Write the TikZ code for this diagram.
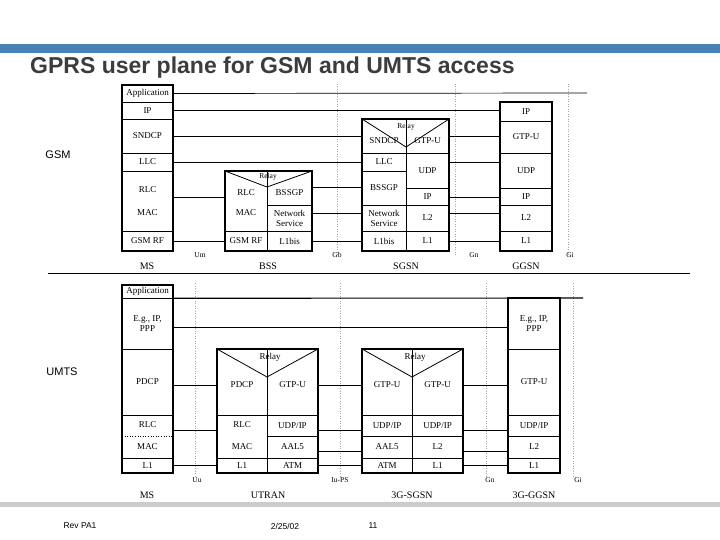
\documentclass[tikz,border=0pt]{standalone}
\usepackage{fontspec}
\setmainfont{Liberation Serif}
\newfontfamily\sansf{Liberation Sans}
\begin{document}
\begin{tikzpicture}[x=1pt,y=-1pt,
  cell/.style={draw,line width=0.6pt,inner sep=0pt,font=\fontsize{9}{10}\selectfont,align=center},
  txt/.style={inner sep=0pt,font=\fontsize{9}{10}\selectfont,align=center},
  lbl/.style={inner sep=0pt,font=\fontsize{7.5}{8}\selectfont},
  nlbl/.style={inner sep=0pt,font=\fontsize{10}{11}\selectfont},
  box/.style={draw,line width=1.1pt},
  ln/.style={line width=0.7pt},
  iface/.style={gray!70,line width=0.5pt,dotted},
  side/.style={inner sep=0pt,font=\sansf\fontsize{11}{13}\selectfont},
  foot/.style={inner sep=0pt,font=\sansf\fontsize{8.5}{10}\selectfont}]
\newcommand\cell[6]{\node[cell,minimum width={#4-#2},minimum height={#5-#3}] (#1) at ({(#2+#4)/2},{(#3+#5)/2}) {#6};}
\useasboundingbox (0,0) rectangle (720,540);
\fill[white] (0,0) rectangle (720,540);
\fill[fill={rgb,255:red,70;green,130;blue,180}] (0,44) rectangle (720,53);
\node[anchor=west,inner sep=0pt,font=\sansf\bfseries\fontsize{23}{26}\selectfont,text={rgb,255:red,60;green,60;blue,60}] (title) at (30,68) {GPRS user plane for GSM and UMTS access};
\fill[gray!40] (0,502) rectangle (720,507);
\draw[line width=0.6pt] (48,273) -- (690,273);
\node[side] (gsm) at (58,155) {GSM};
\node[side] (umts) at (62,372) {UMTS};
\node[foot] (rev) at (80,526) {Rev PA1};
\node[foot] (date) at (285,526) {2/25/02};
\node[foot] (page) at (373,526) {11};

% ---------- GSM ----------
\foreach \x in {337,455,568} \draw[iface] (\x,84) -- (\x,256);
\node[lbl] (um) at (200,255) {Um};
\node[lbl] (gb) at (337,255) {Gb};
\node[lbl] (gn) at (474,255) {Gn};
\node[lbl] (gi) at (570,255) {Gi};
\node[nlbl] (lms) at (147,266) {MS};
\node[nlbl] (lbss) at (268,266) {BSS};
\node[nlbl] (lsgsn) at (406,266) {SGSN};
\node[nlbl] (lggsn) at (526,266) {GGSN};
% MS
\cell{msapp}{122}{85}{173}{102}{Application}
\cell{msip}{122}{102}{173}{119}{IP}
\cell{mssndcp}{122}{119}{173}{153}{SNDCP}
\cell{msllc}{122}{153}{173}{171}{LLC}
\cell{msrm}{122}{171}{173}{231}{}
\node[txt] (msrlc) at (147.5,190) {RLC};
\node[txt] (msmac) at (147.5,213) {MAC};
\cell{msrf}{122}{231}{173}{251}{GSM RF}
\draw[box] (122,85) rectangle (173,251);
% BSS
\cell{bssrm}{225}{171}{267}{231}{}
\node[txt] (bssrlc) at (246,193) {RLC};
\node[txt] (bssmac) at (246,213) {MAC};
\cell{bssgp}{267}{171}{312}{205}{}
\node[txt] (bssgpt) at (289.5,193) {BSSGP};
\cell{bssns}{267}{205}{312}{231}{Network\\Service}
\cell{bssrf}{225}{231}{267}{251}{GSM RF}
\cell{bssl1}{267}{231}{312}{251}{L1bis}
\draw[line width=0.8pt] (225,171) -- (267,187) -- (312,171);
\node[lbl] (bssrelay) at (268,177) {Relay};
\draw[box] (225,171) rectangle (312,251);
% SGSN
\cell{sgsnd}{362}{119}{406}{153}{}
\node[txt] at (384,141) {SNDCP};
\cell{sggtp}{406}{119}{449}{153}{}
\node[txt] at (427.5,141) {GTP-U};
\cell{sgllc}{362}{153}{406}{171}{LLC}
\cell{sgbssgp}{362}{171}{406}{205}{BSSGP}
\cell{sgns}{362}{205}{406}{231}{Network\\Service}
\cell{sgl1bis}{362}{231}{406}{251}{L1bis}
\cell{sgudp}{406}{153}{449}{188}{UDP}
\cell{sgip}{406}{188}{449}{205}{IP}
\cell{sgl2}{406}{205}{449}{231}{L2}
\cell{sgl1}{406}{231}{449}{251}{L1}
\draw[line width=0.8pt] (362,119) -- (406,147) -- (449,119);
\node[lbl] (sgrelay) at (406,127) {Relay};
\draw[box] (362,119) rectangle (449,251);
% GGSN
\cell{ggip}{500}{102}{552}{121}{IP}
\cell{gggtp}{500}{121}{552}{153}{GTP-U}
\cell{ggudp}{500}{153}{552}{188}{UDP}
\cell{ggip2}{500}{188}{552}{205}{IP}
\cell{ggl2}{500}{205}{552}{231}{L2}
\cell{ggl1}{500}{231}{552}{251}{L1}
\draw[box] (500,102) rectangle (552,251);
% GSM connectors
\coordinate (append) at (587,93);
\draw[ln] (msapp.east) -- (append);
\draw[ln] (msip.east) -- (ggip.west|-msip.east);
\draw[ln] (mssndcp.east) -- (sgsnd.west);
\draw[ln] (sggtp.east) -- (gggtp.west|-sggtp.east);
\draw[ln] (msllc.east|-0,162) -- (sgllc.west|-0,162);
\draw[ln] (sgudp.east|-0,162) -- (ggudp.west|-0,162);
\draw[ln] (msrm.east|-0,197) -- (bssrm.west|-0,197);
\draw[ln] (bssgp.east|-0,187) -- (sgbssgp.west|-0,187);
\draw[ln] (sgip.east|-0,197) -- (ggip2.west|-0,197);
\draw[ln] (bssns.east|-0,213) -- (sgns.west|-0,213);
\draw[ln] (sgl2.east|-0,213) -- (ggl2.west|-0,213);
\draw[ln] (msrf.east) -- (bssrf.west);
\draw[ln] (bssl1.east) -- (sgl1bis.west);
\draw[ln] (sgl1.east) -- (ggl1.west);

% ---------- UMTS ----------
\foreach \x in {195,340,486,573} \draw[iface] (\x,283) -- (\x,476);
\node[lbl] (uu) at (197,480) {Uu};
\node[lbl] (iups) at (340,480) {Iu-PS};
\node[lbl] (gn2) at (490,480) {Gn};
\node[lbl] (gi2) at (578,480) {Gi};
\node[nlbl] (lms2) at (147,495) {MS};
\node[nlbl] (lutran) at (268,495) {UTRAN};
\node[nlbl] (l3gs) at (412,495) {3G-SGSN};
\node[nlbl] (l3gg) at (534,495) {3G-GGSN};
% MS
\cell{uapp}{122}{285}{173}{298}{Application}
\cell{uip}{122}{298}{173}{349}{E.g., IP,\\PPP}
\cell{updcp}{122}{349}{173}{415}{PDCP}
\node[txt] (urlc) at (147.5,425) {RLC};
\node[txt] (umac) at (147.5,447) {MAC};
\draw[line width=0.6pt] (122,415) -- (173,415);
\draw[line width=0.6pt,dotted] (122,436) -- (173,436);
\cell{ul1}{122}{458}{173}{473}{L1}
\coordinate (urm) at (173,430);
\draw[box] (122,285) rectangle (173,473);
% UTRAN
\cell{utpdcp}{217}{349}{267}{415}{}
\node[txt] at (242,385) {PDCP};
\cell{utgtp}{267}{349}{318}{415}{}
\node[txt] at (292.5,385) {GTP-U};
\cell{utrm}{217}{415}{267}{458}{}
\node[txt] at (242,425) {RLC};
\node[txt] at (242,447) {MAC};
\cell{utudp}{267}{415}{318}{436}{UDP/IP}
\cell{utaal}{267}{436}{318}{458}{AAL5}
\cell{utl1}{217}{458}{267}{473}{L1}
\cell{utatm}{267}{458}{318}{473}{ATM}
\draw[line width=0.8pt] (217,349) -- (267,377) -- (318,349);
\node[txt] (utrelay) at (270,357) {Relay};
\draw[box] (217,349) rectangle (318,473);
% 3G-SGSN
\cell{sg3gtpa}{362}{349}{412}{415}{}
\node[txt] at (387,385) {GTP-U};
\cell{sg3gtpb}{412}{349}{463}{415}{}
\node[txt] at (437.5,385) {GTP-U};
\cell{sg3udpa}{362}{415}{412}{436}{UDP/IP}
\cell{sg3udpb}{412}{415}{463}{436}{UDP/IP}
\cell{sg3aal}{362}{436}{412}{458}{AAL5}
\cell{sg3l2}{412}{436}{463}{458}{L2}
\cell{sg3atm}{362}{458}{412}{473}{ATM}
\cell{sg3l1}{412}{458}{463}{473}{L1}
\draw[line width=0.8pt] (362,349) -- (412,377) -- (463,349);
\node[txt] (sg3relay) at (415,357) {Relay};
\draw[box] (362,349) rectangle (463,473);
% 3G-GGSN
\cell{gg3ip}{508}{298}{560}{349}{E.g., IP,\\PPP}
\cell{gg3gtp}{508}{349}{560}{415}{GTP-U}
\cell{gg3udp}{508}{415}{560}{436}{UDP/IP}
\cell{gg3l2}{508}{436}{560}{458}{L2}
\cell{gg3l1}{508}{458}{560}{473}{L1}
\draw[box] (508,298) rectangle (560,473);
% UMTS connectors
\coordinate (uappend) at (583,298);
\draw[line width=1.1pt] (uapp.south east) -- (uappend);
\draw[ln] (uip.east|-0,327) -- (gg3ip.west|-0,327);
\draw[ln] (updcp.east|-0,385) -- (utpdcp.west|-0,385);
\draw[ln] (utgtp.east|-0,385) -- (sg3gtpa.west|-0,385);
\draw[ln] (sg3gtpb.east|-0,385) -- (gg3gtp.west|-0,385);
\draw[ln] (urm) -- (utrm.west|-urm);
\draw[ln] (utudp.east|-0,430) -- (sg3udpa.west|-0,430);
\draw[ln] (sg3udpb.east|-0,430) -- (gg3udp.west|-0,430);
\draw[ln] (utaal.east|-0,451) -- (sg3aal.west|-0,451);
\draw[ln] (sg3l2.east|-0,451) -- (gg3l2.west|-0,451);
\draw[ln] (ul1.east) -- (utl1.west);
\draw[ln] (utatm.east) -- (sg3atm.west);
\draw[ln] (sg3l1.east) -- (gg3l1.west);
\end{tikzpicture}
\end{document}
